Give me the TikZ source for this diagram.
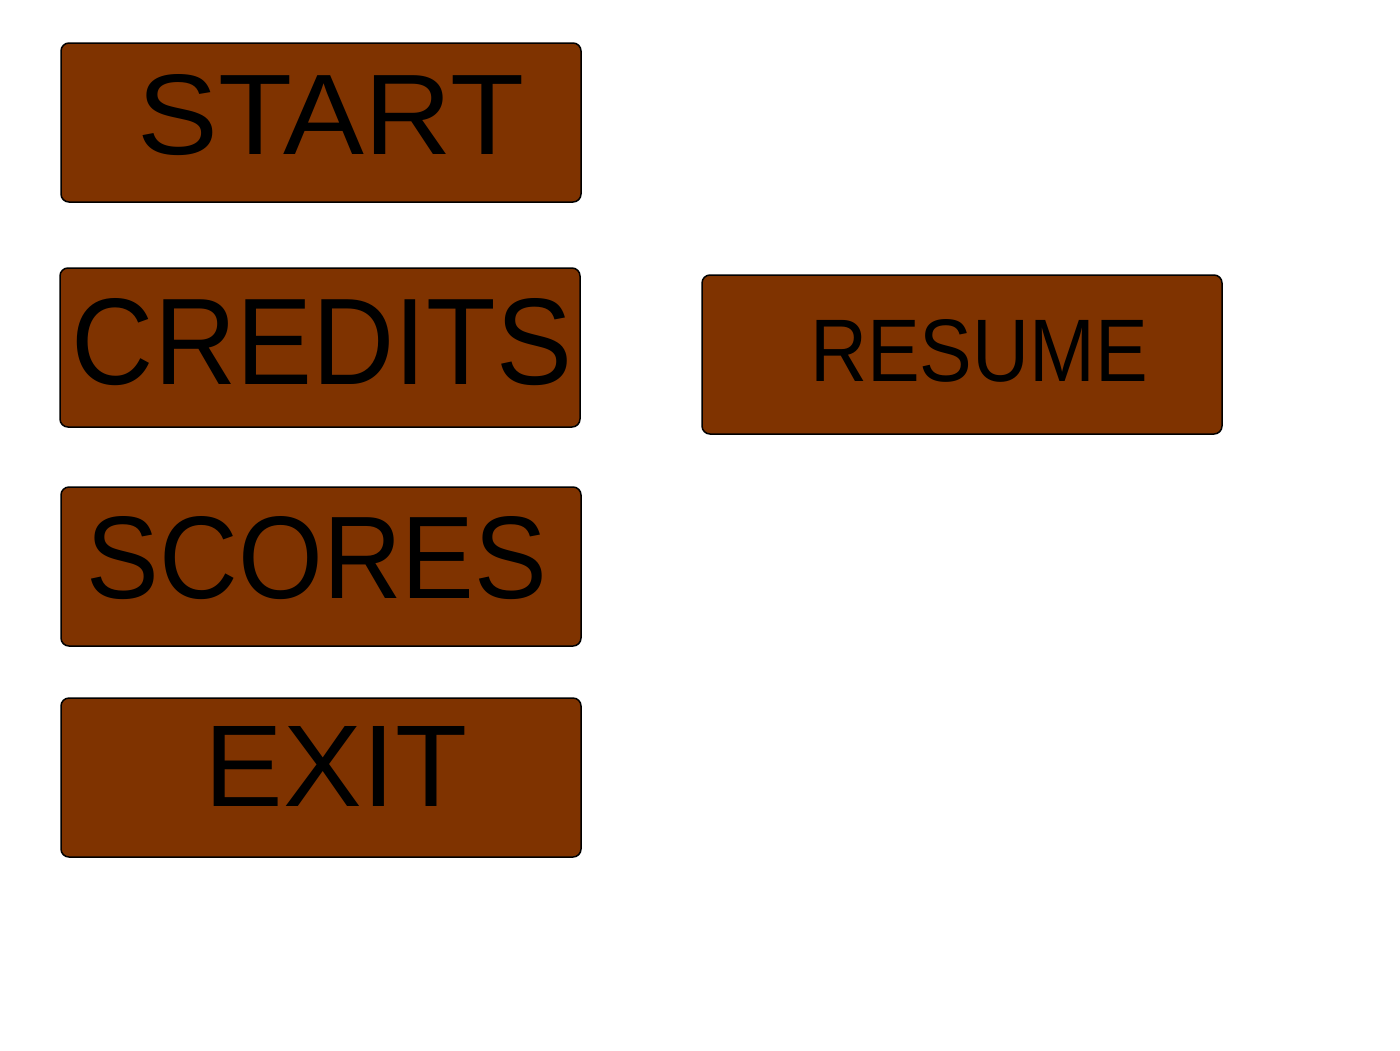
\documentclass[tikz,border=0pt]{standalone}
\usepackage{fontspec}
\usepackage{graphicx}
\setmainfont{Liberation Sans}
\definecolor{btnbrown}{HTML}{7F3300}
\begin{document}
\begin{tikzpicture}[x=0.5pt,y=-0.5pt,
  btn/.style={draw=black,line width=0.75pt,fill=btnbrown,rounded corners=4pt},
  lbl/.style={inner sep=0pt,text=black}]
\useasboundingbox (0,0) rectangle (1400,1050);
\fill[white] (0,0) rectangle (1400,1050);
\draw[btn] (61,43) rectangle (581,202);
\draw[btn] (60,268) rectangle (580,427);
\draw[btn] (61,487) rectangle (581,646);
\draw[btn] (61,698) rectangle (581,857);
\draw[btn] (702,275) rectangle (1222,434);
\node[lbl] (start) at (331,115) {\resizebox{193pt}{40pt}{START}};
\node[lbl] (credits) at (322,342) {\resizebox{250pt}{43pt}{CREDITS}};
\node[lbl] (scores) at (317,558) {\resizebox{230pt}{41pt}{SCORES}};
\node[lbl] (exit) at (336,766) {\resizebox{131pt}{40pt}{EXIT}};
\node[lbl] (resume) at (979,351) {\resizebox{169pt}{31pt}{RESUME}};
\end{tikzpicture}
\end{document}
